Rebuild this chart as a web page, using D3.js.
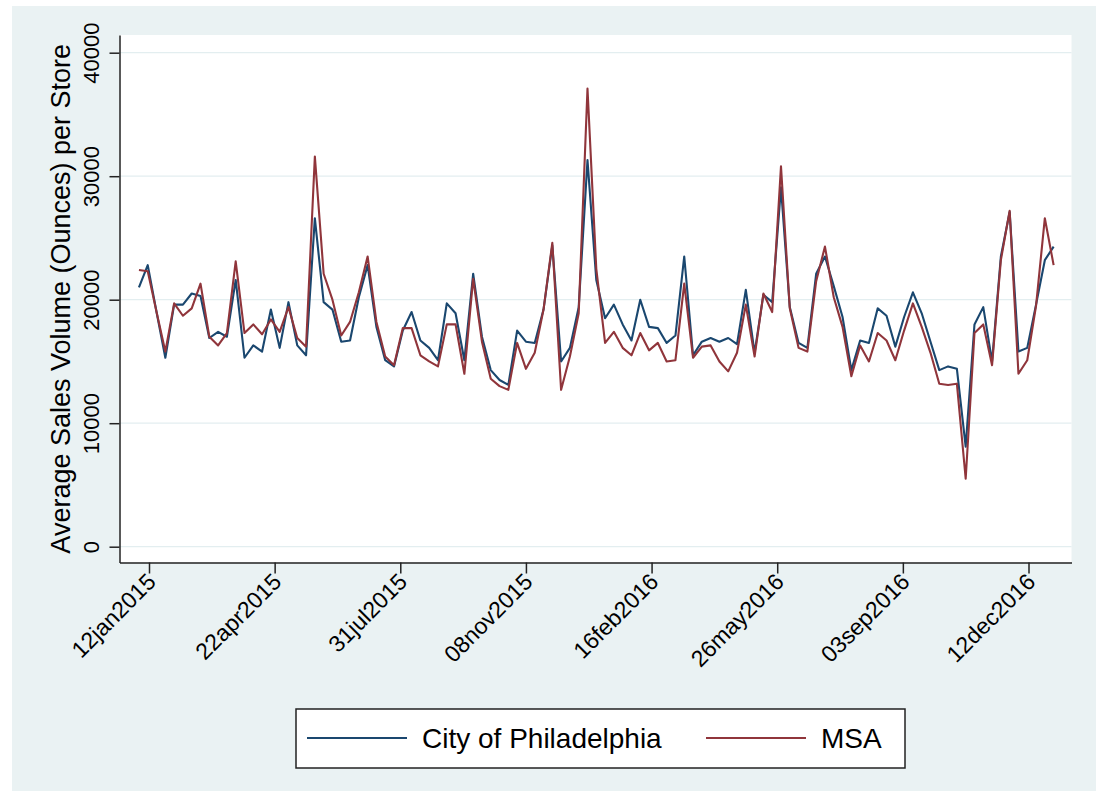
<!DOCTYPE html>
<html>
<head>
<meta charset="utf-8">
<script src="https://cdn.jsdelivr.net/npm/d3@7"></script>
<style>
  body { margin: 0; background: #fff; }
  text { font-family: "Liberation Sans", Arial, sans-serif; fill: #000; }
</style>
</head>
<body>
<div id="chart-area"></div>
<script>
// weekly series, first week 04jan2015
var firstWeek = "04jan2015";

var phila = [21000, 22800, 19000, 15300, 19600, 19600, 20500, 20300, 16900, 17400,
  17000, 21600, 15300, 16300, 15800, 19200, 16100, 19800, 16300, 15500,
  26600, 19800, 19200, 16600, 16700, 20200, 22800, 17800, 15100, 14600,
  17500, 19000, 16700, 16100, 15100, 19700, 18900, 15100, 22100, 17000,
  14300, 13500, 13100, 17500, 16600, 16500, 19200, 24400, 15000, 16100,
  19400, 31300, 21600, 18500, 19600, 18000, 16700, 20000, 17800, 17700,
  16500, 17100, 23500, 15500, 16600, 16900, 16600, 16900, 16400, 20800,
  15700, 20400, 19800, 29100, 19400, 16500, 16100, 22100, 23500, 21100,
  18600, 14300, 16700, 16500, 19300, 18700, 16200, 18600, 20600, 18900,
  16600, 14300, 14600, 14400, 8100, 18000, 19400, 15000, 23500, 27100,
  15800, 16100, 19600, 23200, 24300];

var msa = [22400, 22300, 19000, 15800, 19700, 18700, 19300, 21300, 17000, 16300,
  17300, 23100, 17300, 18000, 17200, 18400, 17400, 19400, 16900, 16200,
  31600, 22100, 20000, 17100, 18200, 20600, 23500, 18200, 15400, 14700,
  17700, 17700, 15500, 15000, 14600, 18000, 18000, 14000, 21700, 16600,
  13600, 13000, 12700, 16500, 14400, 15700, 19200, 24600, 12700, 15400,
  18900, 37100, 22500, 16500, 17400, 16100, 15500, 17300, 15900, 16500,
  15000, 15100, 21300, 15300, 16200, 16300, 15000, 14200, 15700, 19600,
  15400, 20500, 19000, 30800, 19300, 16100, 15800, 21500, 24300, 20200,
  17800, 13800, 16300, 15000, 17300, 16700, 15100, 17500, 19700, 17800,
  15700, 13200, 13100, 13200, 5500, 17300, 18000, 14700, 23200, 27200,
  14000, 15100, 19500, 26600, 22800];

var xTickLabels = ["12jan2015", "22apr2015", "31jul2015", "08nov2015",
  "16feb2016", "26may2016", "03sep2016", "12dec2016"];
var yTicks = [0, 10000, 20000, 30000, 40000];

var seriesNames = ["City of Philadelphia", "MSA"];
var seriesColors = ["#1a476f", "#90353b"];

var parseDate = d3.timeParse("%d%b%Y");
var start = parseDate(firstWeek);
var dates = phila.map((d, i) => d3.timeDay.offset(start, 7 * i));
var tickDates = xTickLabels.map(parseDate);

var W = 1103, H = 793;
var pL = 119.5, pR = 1071.5, pT = 35, pB = 562.5;

var svg = d3.select("#chart-area").append("svg")
  .attr("width", W)
  .attr("height", H);

svg.append("rect")
  .attr("x", 12).attr("y", 6)
  .attr("width", 1084).attr("height", 785)
  .attr("fill", "#eaf2f3");

// scales: anchored on the first and last tick, then stretched to the frame
var x = d3.scaleTime()
  .domain([tickDates[0], tickDates[tickDates.length - 1]])
  .range([149, 1028.5]);
x.domain([x.invert(pL), x.invert(pR)]).range([pL, pR]);

var y = d3.scaleLinear().domain([0, 40000]).range([546.7, 52.7]);
y.domain([y.invert(pB), y.invert(pT)]).range([pB, pT]);

svg.append("rect")
  .attr("x", pL).attr("y", pT)
  .attr("width", pR - pL).attr("height", pB - pT)
  .attr("fill", "#fff");

// grid
svg.append("g").selectAll("line")
  .data(yTicks)
  .enter().append("line")
    .attr("x1", pL).attr("x2", pR)
    .attr("y1", d => y(d)).attr("y2", d => y(d))
    .attr("stroke", "#e3eef0")
    .attr("stroke-width", 1.2);

// lines
var line = d3.line()
  .x((d, i) => x(dates[i]))
  .y(d => y(d));

[phila, msa].forEach((s, k) => {
  svg.append("path")
    .datum(s)
    .attr("d", line)
    .attr("fill", "none")
    .attr("stroke", seriesColors[k])
    .attr("stroke-width", 2.1)
    .attr("stroke-linejoin", "round");
});

// y axis
var yAxis = svg.append("g")
  .attr("transform", "translate(" + pL + ",0)")
  .call(d3.axisLeft(y).tickValues(yTicks).tickSize(10).tickSizeOuter(0).tickFormat(d3.format("d")));
yAxis.select(".domain").attr("stroke", "#222").attr("stroke-width", 1.5);
yAxis.selectAll(".tick line").attr("stroke", "#222").attr("stroke-width", 1.5);
yAxis.selectAll(".tick text")
  .attr("transform", "rotate(-90)")
  .attr("x", 0).attr("y", -21)
  .attr("dy", 0)
  .attr("text-anchor", "middle")
  .style("font-size", "22px")
  .style("font-family", "Liberation Sans, Arial, sans-serif")
  .attr("fill", "#111");

// x axis
var xAxis = svg.append("g")
  .attr("transform", "translate(0," + pB + ")")
  .call(d3.axisBottom(x).tickValues(tickDates).tickSize(11).tickSizeOuter(0)
    .tickFormat((d, i) => xTickLabels[i]));
xAxis.select(".domain").attr("stroke", "#222").attr("stroke-width", 1.5);
xAxis.selectAll(".tick line").attr("stroke", "#222").attr("stroke-width", 1.5);
xAxis.selectAll(".tick text")
  .attr("transform", "translate(2,15) rotate(-45)")
  .attr("x", 0).attr("y", 0)
  .attr("dy", "0.35em")
  .attr("text-anchor", "end")
  .style("font-size", "23px")
  .style("font-family", "Liberation Sans, Arial, sans-serif")
  .attr("fill", "#111");

// y title
svg.append("text")
  .attr("transform", "translate(70," + ((pT + pB) / 2) + ") rotate(-90)")
  .attr("text-anchor", "middle")
  .style("font-size", "27px")
  .attr("fill", "#111")
  .text("Average Sales Volume (Ounces) per Store");

// legend
var legend = svg.append("g");
legend.append("rect")
  .attr("x", 296).attr("y", 709)
  .attr("width", 609).attr("height", 59)
  .attr("fill", "#fff")
  .attr("stroke", "#222")
  .attr("stroke-width", 1.5);

var legX = [307, 706];
seriesNames.forEach((n, k) => {
  legend.append("line")
    .attr("x1", legX[k]).attr("x2", legX[k] + 100)
    .attr("y1", 738).attr("y2", 738)
    .attr("stroke", seriesColors[k])
    .attr("stroke-width", 2);
  legend.append("text")
    .attr("x", legX[k] + 115).attr("y", 748)
    .style("font-size", "28px")
    .attr("fill", "#111")
    .text(n);
});
</script>
</body>
</html>
